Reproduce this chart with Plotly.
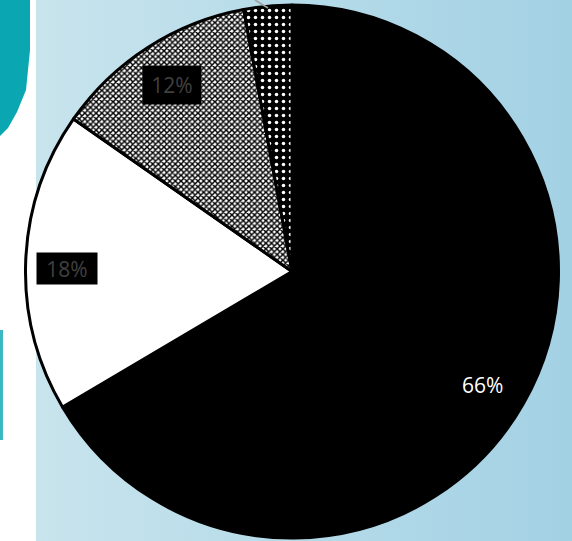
import plotly.graph_objects as go

# ---- data ----
categories = ["A", "B", "C", "D"]
values = [66.5, 18.2, 12.4, 2.9]
label_text = [f"{round(v)}%" for v in values]

W, H = 572, 541

fig = go.Figure()

# background gradient panel (light blue) using a filled scatter
fig.add_trace(go.Scatter(
    x=[36 / W, 1, 1, 36 / W, 36 / W], y=[0, 0, 1, 1, 0],
    xaxis="x", yaxis="y", mode="lines", line=dict(width=0),
    fill="toself",
    fillgradient=dict(type="horizontal",
                      colorscale=[[0, "#c8e4ed"], [0.5, "#b5dbe9"], [1, "#a3d1e4"]]),
    hoverinfo="skip", showlegend=False,
))
# teal decoration on the left strip
fig.add_trace(go.Scatter(
    x=[0, 30 / W, 30 / W, 26 / W, 17 / W, 8 / W, 0, 0],
    y=[1, 1, 1 - 50 / H, 1 - 90 / H, 1 - 112 / H, 1 - 128 / H, 1 - 136 / H, 1],
    xaxis="x", yaxis="y", mode="lines", line=dict(width=0),
    fill="toself", fillcolor="#0aa6b1", hoverinfo="skip", showlegend=False,
))
fig.add_trace(go.Scatter(
    x=[0, 3 / W, 3 / W, 0, 0],
    y=[1 - 330 / H, 1 - 330 / H, 1 - 440 / H, 1 - 440 / H, 1 - 330 / H],
    xaxis="x", yaxis="y", mode="lines", line=dict(width=0),
    fill="toself", fillcolor="#3bb8c2", hoverinfo="skip", showlegend=False,
))

cx, cy, r = 292, 271.5, 266.5
fig.add_trace(go.Pie(
    labels=categories, values=values, sort=False, direction="clockwise",
    rotation=0, textinfo="none", hoverinfo="label+percent", showlegend=False,
    domain=dict(x=[(cx - r) / W, (cx + r) / W], y=[(H - cy - r) / H, (H - cy + r) / H]),
    marker=dict(
        colors=["#000000", "#ffffff", "#ffffff", "#000000"],
        line=dict(color="#000000", width=3),
        pattern=dict(
            shape=["", "", "x", "."],
            fgcolor=["#000000", "#000000", "#000000", "#ffffff"],
            bgcolor=["#000000", "#ffffff", "#ffffff", "#000000"],
            size=[8, 8, 4, 7],
            solidity=[0.3, 0.3, 0.6, 0.2],
            fillmode="replace",
        ),
    ),
))

# data labels
fig.add_annotation(x=482 / W, y=1 - 385 / H, xref="paper", yref="paper",
                   xanchor="center", yanchor="middle",
                   text=label_text[0], showarrow=False,
                   font=dict(family="Open Sans", size=21, color="#ffffff"))
fig.add_annotation(x=67 / W, y=1 - 268 / H, xref="paper", yref="paper",
                   xanchor="center", yanchor="middle",
                   text=label_text[1], showarrow=False, bgcolor="#000000",
                   borderpad=2, width=56, height=27,
                   font=dict(family="Open Sans", size=21, color="#404040"))
fig.add_annotation(x=172 / W, y=1 - 85 / H, xref="paper", yref="paper",
                   xanchor="center", yanchor="middle",
                   text=label_text[2], showarrow=False, bgcolor="#000000",
                   borderpad=2, width=54, height=34,
                   font=dict(family="Open Sans", size=21, color="#404040"))

# faint leader line at the top
fig.add_shape(type="line", xref="paper", yref="paper",
              x0=255 / W, y0=1.0, x1=268 / W, y1=1 - 8 / H,
              line=dict(color="#a0a0a0", width=1.5))

fig.update_layout(
    width=W, height=H, margin=dict(l=0, r=0, t=0, b=0),
    paper_bgcolor="#ffffff", plot_bgcolor="rgba(0,0,0,0)",
    xaxis=dict(range=[0, 1], domain=[0, 1], visible=False, fixedrange=True),
    yaxis=dict(range=[0, 1], domain=[0, 1], visible=False, fixedrange=True),
    showlegend=False,
)

fig.write_html("out.html", config={"displayModeBar": False},
               post_script="document.body.style.margin='0';document.body.style.overflow='hidden';")
